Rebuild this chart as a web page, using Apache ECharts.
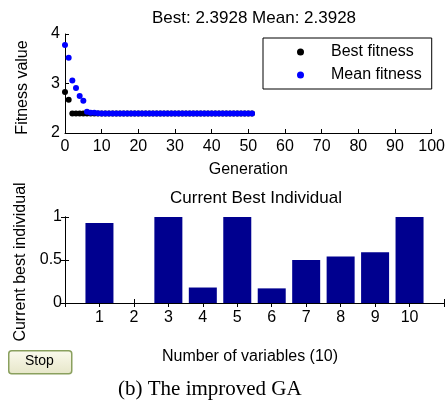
<!DOCTYPE html>
<html>
<head>
<meta charset="utf-8">
<script src="https://cdn.jsdelivr.net/npm/echarts@6/dist/echarts.min.js"></script>
<style>
html,body{margin:0;padding:0;background:#fff;}
#c{width:448px;height:402px;}
</style>
</head>
<body>
<div id="c"></div>
<script>
// Top plot: fitness per generation (index = generation 0..51)
const bestFitness = [2.83, 2.67,
  2.3928, 2.3928, 2.3928, 2.3928, 2.3928, 2.3928, 2.3928, 2.3928, 2.3928, 2.3928,
  2.3928, 2.3928, 2.3928, 2.3928, 2.3928, 2.3928, 2.3928, 2.3928, 2.3928, 2.3928,
  2.3928, 2.3928, 2.3928, 2.3928, 2.3928, 2.3928, 2.3928, 2.3928, 2.3928, 2.3928,
  2.3928, 2.3928, 2.3928, 2.3928, 2.3928, 2.3928, 2.3928, 2.3928, 2.3928, 2.3928,
  2.3928, 2.3928, 2.3928, 2.3928, 2.3928, 2.3928, 2.3928, 2.3928, 2.3928, 2.3928];
const meanFitness = [3.78, 3.52, 3.06, 2.91, 2.75, 2.65, 2.43, 2.41, 2.41, 2.40,
  2.3928, 2.3928, 2.3928, 2.3928, 2.3928, 2.3928, 2.3928, 2.3928, 2.3928, 2.3928,
  2.3928, 2.3928, 2.3928, 2.3928, 2.3928, 2.3928, 2.3928, 2.3928, 2.3928, 2.3928,
  2.3928, 2.3928, 2.3928, 2.3928, 2.3928, 2.3928, 2.3928, 2.3928, 2.3928, 2.3928,
  2.3928, 2.3928, 2.3928, 2.3928, 2.3928, 2.3928, 2.3928, 2.3928, 2.3928, 2.3928,
  2.3928, 2.3928];
const genTicks = [0, 10, 20, 30, 40, 50, 60, 70, 80, 90, 100];
const fitTicks = [2, 3, 4];

// Bottom plot: current best individual
const variables = [1, 2, 3, 4, 5, 6, 7, 8, 9, 10];
const individual = [0.93, 0, 1, 0.18, 1, 0.17, 0.50, 0.54, 0.59, 1];
const indTicks = [0, 0.5, 1];

const FONT = 'Liberation Sans, Arial, sans-serif';
const chart = echarts.init(document.getElementById('c'), null, {renderer: 'canvas'});

const axisCommon = {
  axisLine: {show: true, lineStyle: {color: '#000', width: 1}},
  axisTick: {show: true, inside: true, length: 4, lineStyle: {color: '#000'}},
  splitLine: {show: false},
  axisLabel: {color: '#000', fontSize: 16, fontFamily: FONT}
};

chart.setOption({
  animation: false,
  backgroundColor: '#fff',
  textStyle: {fontFamily: FONT},
  title: [
    {text: 'Best: 2.3928 Mean: 2.3928', left: 249, top: 5, textAlign: 'center',
     textStyle: {fontSize: 17, fontWeight: 'normal', color: '#000', fontFamily: FONT}},
    {text: 'Current Best Individual', left: 251, top: 185, textAlign: 'center',
     textStyle: {fontSize: 17, fontWeight: 'normal', color: '#000', fontFamily: FONT}}
  ],
  legend: {
    orient: 'vertical', left: 263, top: 38,
    borderColor: '#000', borderWidth: 1, backgroundColor: '#fff',
    padding: [6, 10, 6, 34], itemGap: 7,
    itemWidth: 7, itemHeight: 7, icon: 'circle',
    textStyle: {fontSize: 16, lineHeight: 16, color: '#000', fontFamily: FONT, padding: [0, 0, 0, 22]},
    data: ['Best fitness', 'Mean fitness']
  },
  grid: [
    {left: 65, top: 34, width: 368, height: 99},
    {left: 65, top: 217, width: 379, height: 86}
  ],
  xAxis: [
    Object.assign({}, axisCommon, {
      type: 'value', gridIndex: 0, min: genTicks[0], max: genTicks[genTicks.length - 1], interval: 10,
      name: 'Generation', nameLocation: 'middle', nameGap: 29,
      nameTextStyle: {fontSize: 16, color: '#000', fontFamily: FONT},
      axisLabel: Object.assign({}, axisCommon.axisLabel, {margin: 6})
    }),
    Object.assign({}, axisCommon, {
      type: 'value', gridIndex: 1, min: 0, max: 11, interval: 1,
      name: 'Number of variables (10)', nameLocation: 'middle', nameGap: 46,
      nameTextStyle: {fontSize: 16, color: '#000', fontFamily: FONT, padding: [0, 9, 0, 0]},
      axisLabel: Object.assign({}, axisCommon.axisLabel, {margin: 7,
        formatter: v => variables.indexOf(v) >= 0 ? String(v) : ''})
    }),
    Object.assign({}, axisCommon, {
      type: 'value', gridIndex: 1, position: 'top', min: 0, max: 11, interval: 1,
      axisLabel: {show: false}
    })
  ],
  yAxis: [
    Object.assign({}, axisCommon, {
      type: 'value', gridIndex: 0, min: fitTicks[0], max: fitTicks[fitTicks.length - 1], interval: 1,
      name: 'Fitness value', nameLocation: 'middle', nameGap: 34,
      nameTextStyle: {fontSize: 16, color: '#000', fontFamily: FONT, padding: [0, 8, 0, 0]},
      axisLabel: Object.assign({}, axisCommon.axisLabel, {margin: 5})
    }),
    Object.assign({}, axisCommon, {
      type: 'value', gridIndex: 1, min: indTicks[0], max: indTicks[indTicks.length - 1], interval: 0.5,
      name: 'Current best individual', nameLocation: 'middle', nameGap: 30,
      nameTextStyle: {fontSize: 16, color: '#000', fontFamily: FONT, padding: [0, 4, 0, 0]},
      axisLabel: Object.assign({}, axisCommon.axisLabel, {margin: 3})
    }),
    Object.assign({}, axisCommon, {
      type: 'value', gridIndex: 1, position: 'right', min: 0, max: 1, interval: 0.5,
      axisLabel: {show: false}
    })
  ],
  series: [
    {name: 'Best fitness', type: 'scatter', xAxisIndex: 0, yAxisIndex: 0,
     symbol: 'circle', symbolSize: 6, itemStyle: {color: '#000', opacity: 1},
     data: bestFitness.map((v, i) => [i, v])},
    {name: 'Mean fitness', type: 'scatter', xAxisIndex: 0, yAxisIndex: 0,
     symbol: 'circle', symbolSize: 6, itemStyle: {color: '#0000ff', opacity: 1},
     data: meanFitness.map((v, i) => [i, v])},
    {name: 'Individual', type: 'bar', xAxisIndex: 1, yAxisIndex: 1,
     barWidth: 28, itemStyle: {color: '#00008f'},
     data: variables.map((c, i) => [c, individual[i]])}
  ],
  graphic: [
    {type: 'rect', left: 8, top: 350, shape: {width: 63, height: 23, r: 3},
     style: {
       fill: new echarts.graphic.LinearGradient(0, 0, 0, 1, [
         {offset: 0, color: '#fbfaee'}, {offset: 1, color: '#e6e6c8'}]),
       stroke: '#8aa05e', lineWidth: 1.5
     }},
    {type: 'text', left: 25, top: 354,
     style: {text: 'Stop', fontSize: 14, fontFamily: FONT, fill: '#000'}},
    {type: 'text', left: 118, top: 379,
     style: {text: '(b) The improved GA', fontSize: 21, fontFamily: 'Liberation Serif, Times New Roman, serif', fill: '#000'}}
  ]
});
</script>
</body>
</html>
